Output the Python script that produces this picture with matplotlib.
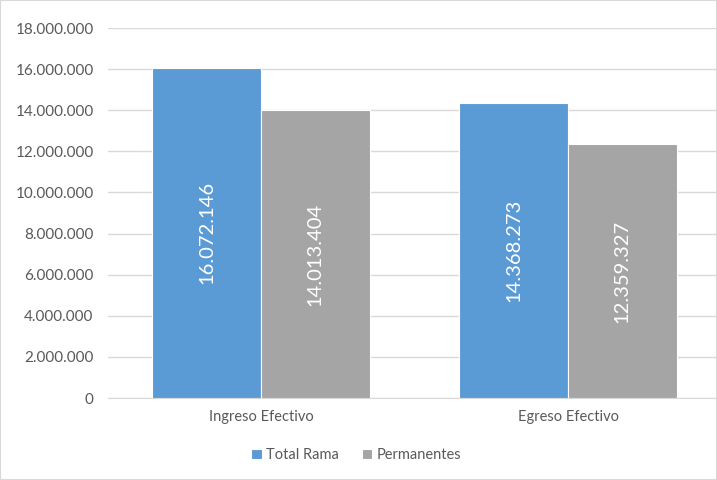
import numpy as np
import matplotlib.pyplot as plt
from matplotlib.patches import Rectangle
from matplotlib.ticker import FuncFormatter

categories = ["Ingreso Efectivo", "Egreso Efectivo"]
series_names = ["Total Rama", "Permanentes"]
total_rama = [16072146, 14368273]
permanentes = [14013404, 12359327]
colors = ["#5B9BD5", "#A5A5A5"]

plt.rcParams['font.family'] = ['Lato', 'DejaVu Sans']

fig = plt.figure(figsize=(7.17, 4.8), dpi=100)
ax = fig.add_axes([107.5 / 717, 82 / 480, 614 / 717, 370 / 480])

x = np.arange(len(categories))
w = 0.354

def fmt(v):
    return f"{int(v):,}".replace(",", ".")

for i, (vals, name, c) in enumerate(zip([total_rama, permanentes], series_names, colors)):
    pos = x + (i - 0.5) * w
    bars = ax.bar(pos, vals, width=w, color=c, label=name,
                  edgecolor="white", linewidth=0.8, zorder=3)
    for b, v in zip(bars, vals):
        ax.text(b.get_x() + b.get_width() / 2, v / 2, fmt(v), rotation=90,
                ha="center", va="center", color="white", fontsize=14.5, zorder=4)

ax.set_xlim(-0.5, 1.5)
ax.set_ylim(0, 18000000)
ax.set_yticks(np.arange(0, 18000001, 2000000))
ax.yaxis.set_major_formatter(FuncFormatter(lambda v, p: fmt(v)))
ax.set_xticks(x)
ax.set_xticklabels(categories)
ax.grid(axis="y", color="#D9D9D9", linewidth=1, zorder=0)
for s in ["top", "right", "left"]:
    ax.spines[s].set_visible(False)
ax.spines["bottom"].set_color("#D9D9D9")
ax.tick_params(axis="both", length=0, colors="#595959", labelsize=10.5)
ax.tick_params(axis="y", labelsize=11, pad=10)
ax.tick_params(axis="x", pad=9)

fig.legend(loc="center", bbox_to_anchor=(0.497, 25 / 480), ncol=2, frameon=False,
           fontsize=10.5, handlelength=0.7, handleheight=0.7, handletextpad=0.3,
           columnspacing=1.6, labelcolor="#595959")

fig.patches.append(Rectangle((0, 0), 1, 1, transform=fig.transFigure,
                             fill=False, edgecolor="#D9D9D9", linewidth=1.5))

fig.savefig("out.png", dpi=100)
